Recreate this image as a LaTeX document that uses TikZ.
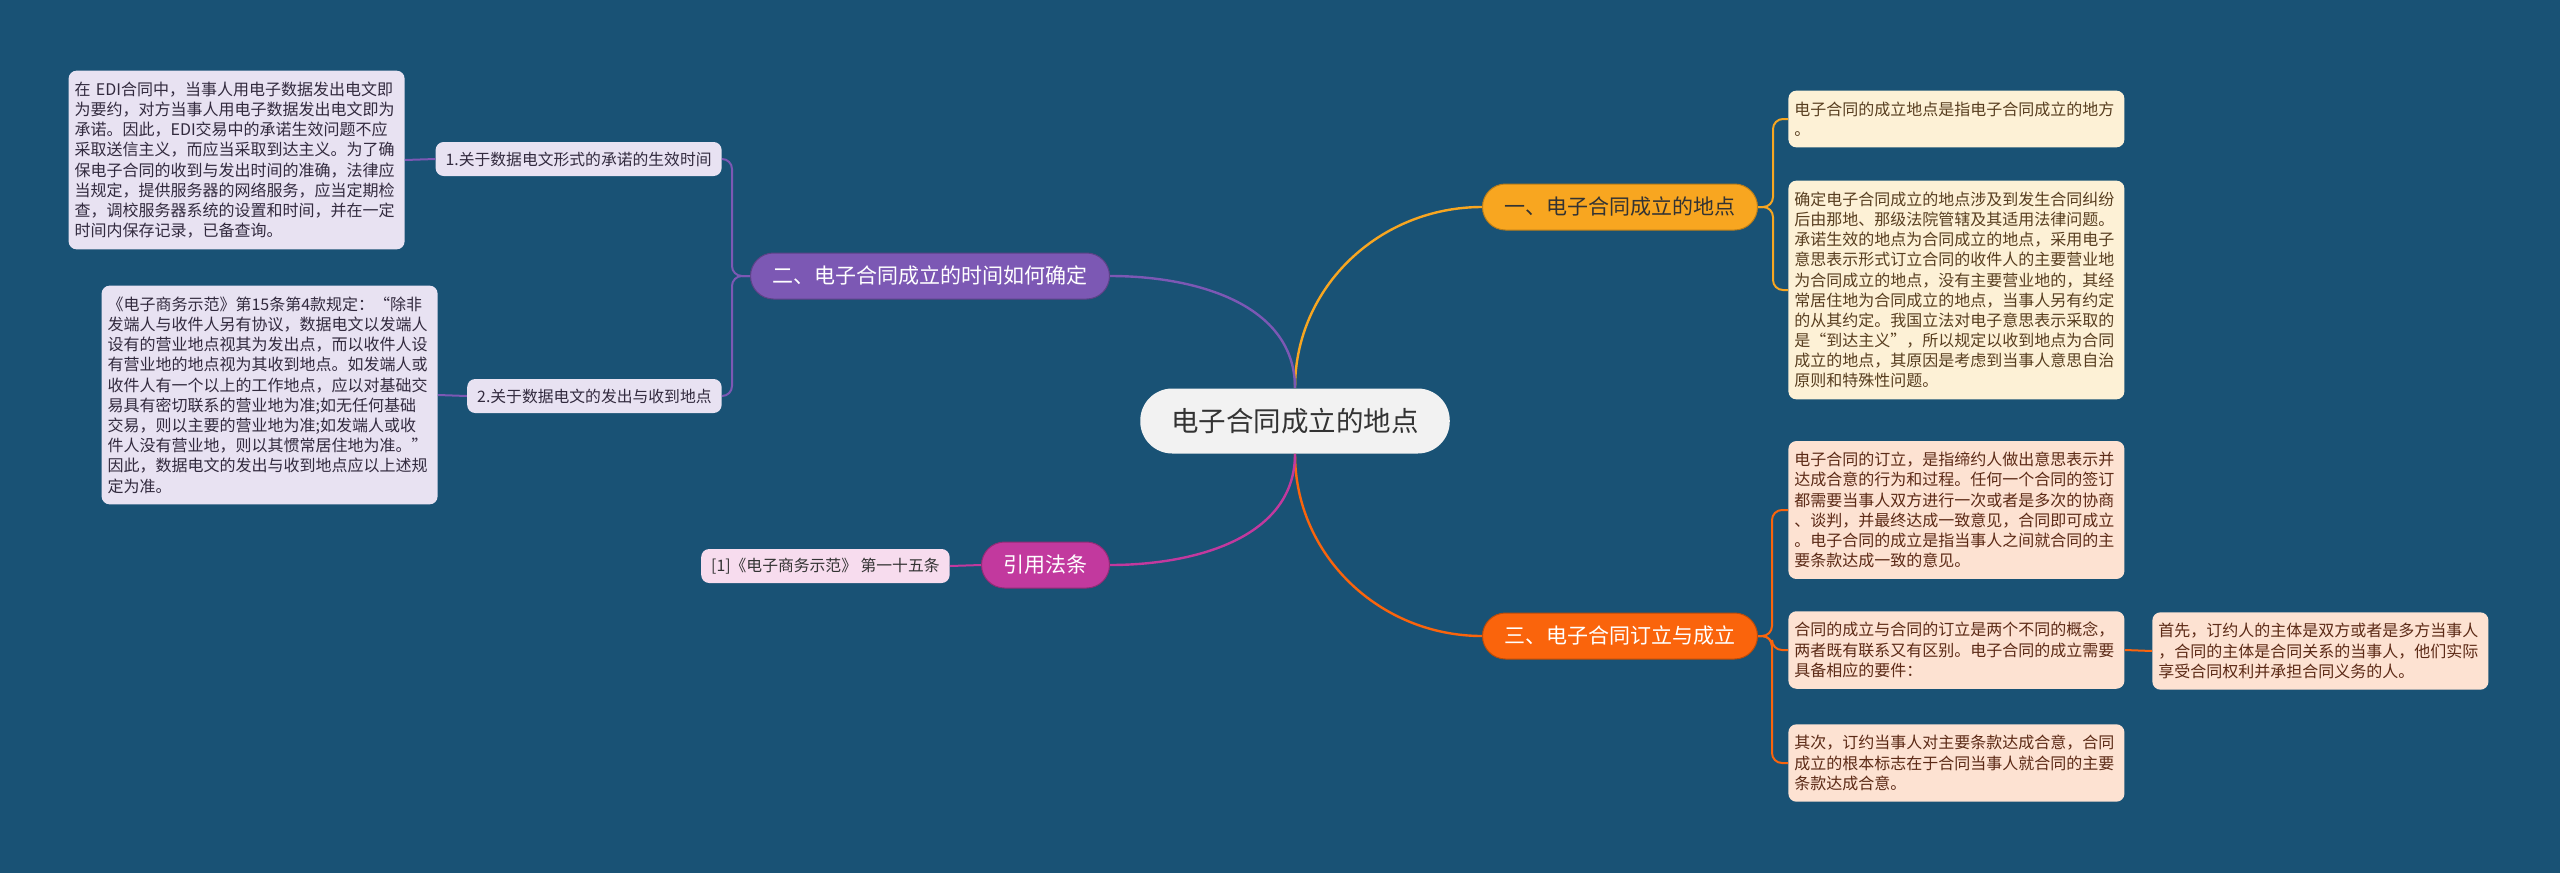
\documentclass[tikz,border=0pt]{standalone}
\usepackage{fontspec}
\setmainfont{Noto Sans CJK SC}
\definecolor{bgblue}{RGB}{25,82,117}
\definecolor{rootfill}{RGB}{242,242,242}
\definecolor{cOrange}{RGB}{248,166,32}
\definecolor{cPurple}{RGB}{124,88,180}
\definecolor{cRed}{RGB}{250,100,12}
\definecolor{cMagenta}{RGB}{194,57,158}
\definecolor{fillOrange}{RGB}{253,241,214}
\definecolor{fillRed}{RGB}{253,226,210}
\definecolor{fillPurple}{RGB}{232,226,242}
\definecolor{fillMagenta}{RGB}{247,220,238}
\definecolor{textdark}{RGB}{51,51,51}
\definecolor{textOrange}{RGB}{88,62,32}
\definecolor{textRed}{RGB}{92,42,22}
\definecolor{textPurple}{RGB}{50,42,62}

\begin{document}
\begin{tikzpicture}[x=0.5pt,y=-0.5pt,
	root/.style={fill=rootfill,text=textdark,rounded corners=16pt,minimum height=32.5pt,
		inner xsep=15.5pt,font=\fontsize{13.75}{16}\selectfont},
	topic/.style={rounded corners=11.5pt,minimum height=23pt,inner xsep=11pt,text=white,
		line width=0.5pt,font=\fontsize{10.5}{12}\selectfont},
	subtopic/.style={fill=fillPurple,text=textPurple,rounded corners=4pt,minimum height=17pt,
		inner xsep=5pt,font=\fontsize{7.9}{9}\selectfont},
	leaf/.style={rounded corners=4pt,text width=162pt,align=left,inner xsep=3pt,inner ysep=5.5pt,
		font=\fontsize{8}{10.1}\selectfont},
	link/.style={line width=1.2pt},
	twig/.style={line width=1pt,rounded corners=5pt}]
	\fill[bgblue] (0,0) rectangle (2560,873);
	\useasboundingbox (0,0) rectangle (2560,873);

	\node[root] (root) at (1295,421) {电子合同成立的地点};

	\node[topic,fill=cOrange,draw=cOrange!75!black,text=textdark,anchor=west] (place) at (1482,207) {一、电子合同成立的地点};
	\node[topic,fill=cPurple,draw=cPurple!75!black,anchor=east] (time) at (1110,276) {二、电子合同成立的时间如何确定};
	\node[topic,fill=cRed,draw=cRed!75!black,anchor=west] (form) at (1482,636) {三、电子合同订立与成立};
	\node[topic,fill=cMagenta,draw=cMagenta!75!black,anchor=east] (law) at (1110,565) {引用法条};

	% right side, first topic
	\node[leaf,fill=fillOrange,text=textOrange,anchor=west] (placeA) at (1788,119)
		{电子合同的成立地点是指电子合同成立的地方\\。};
	\node[leaf,fill=fillOrange,text=textOrange,anchor=west] (placeB) at (1788,290)
		{确定电子合同成立的地点涉及到发生合同纠纷\\后由那地、那级法院管辖及其适用法律问题。\\承诺生效的地点为合同成立的地点，采用电子\\意思表示形式订立合同的收件人的主要营业地\\为合同成立的地点，没有主要营业地的，其经\\常居住地为合同成立的地点，当事人另有约定\\的从其约定。我国立法对电子意思表示采取的\\是“到达主义”，所以规定以收到地点为合同\\成立的地点，其原因是考虑到当事人意思自治\\原则和特殊性问题。};

	% right side, third topic
	\node[leaf,fill=fillRed,text=textRed,anchor=west] (formA) at (1788,510)
		{电子合同的订立，是指缔约人做出意思表示并\\达成合意的行为和过程。任何一个合同的签订\\都需要当事人双方进行一次或者是多次的协商\\、谈判，并最终达成一致意见，合同即可成立\\。电子合同的成立是指当事人之间就合同的主\\要条款达成一致的意见。};
	\node[leaf,fill=fillRed,text=textRed,anchor=west] (formB) at (1788,650)
		{合同的成立与合同的订立是两个不同的概念，\\两者既有联系又有区别。电子合同的成立需要\\具备相应的要件：};
	\node[leaf,fill=fillRed,text=textRed,anchor=west] (formBa) at (2152,651)
		{首先，订约人的主体是双方或者是多方当事人\\，合同的主体是合同关系的当事人，他们实际\\享受合同权利并承担合同义务的人。};
	\node[leaf,fill=fillRed,text=textRed,anchor=west] (formC) at (1788,763)
		{其次，订约当事人对主要条款达成合意，合同\\成立的根本标志在于合同当事人就合同的主要\\条款达成合意。};

	% left side
	\node[subtopic,anchor=east] (timeA) at (722,159) {1.关于数据电文形式的承诺的生效时间};
	\node[subtopic,anchor=east] (timeB) at (722,396) {2.关于数据电文的发出与收到地点};
	\node[leaf,fill=fillPurple,text=textPurple,anchor=east] (timeAa) at (405,160)
		{在 EDI合同中，当事人用电子数据发出电文即\\为要约，对方当事人用电子数据发出电文即为\\承诺。因此，EDI交易中的承诺生效问题不应\\采取送信主义，而应当采取到达主义。为了确\\保电子合同的收到与发出时间的准确，法律应\\当规定，提供服务器的网络服务，应当定期检\\查，调校服务器系统的设置和时间，并在一定\\时间内保存记录，已备查询。};
	\node[leaf,fill=fillPurple,text=textPurple,anchor=east] (timeBa) at (438,395)
		{《电子商务示范》第15条第4款规定：“除非\\发端人与收件人另有协议，数据电文以发端人\\设有的营业地点视其为发出点，而以收件人设\\有营业地的地点视为其收到地点。如发端人或\\收件人有一个以上的工作地点，应以对基础交\\易具有密切联系的营业地为准;如无任何基础\\交易，则以主要的营业地为准;如发端人或收\\件人没有营业地，则以其惯常居住地为准。”\\因此，数据电文的发出与收到地点应以上述规\\定为准。};
	\node[subtopic,fill=fillMagenta,text=textdark,anchor=east] (lawA) at (950,566)
		{[1]《电子商务示范》 第一十五条};

	\draw[link,cOrange] (root.north) to[out=90,in=180] (place.west);
	\draw[link,cPurple] (root.north) to[out=90,in=0] (time.east);
	\draw[link,cRed] (root.south) to[out=-90,in=180] (form.west);
	\draw[link,cMagenta] (root.south) to[out=-90,in=0] (law.east);

	\foreach \n in {placeA,placeB}
		\draw[twig,cOrange] (place.east) -- ++(15,0) |- (\n.west);
	\foreach \n in {formA,formB,formC}
		\draw[twig,cRed] (form.east) -- ++(14,0) |- (\n.west);
	\draw[twig,cRed] (formB.east) -- (formBa.west);
	\foreach \n in {timeA,timeB}
		\draw[twig,cPurple] (time.west) -- ++(-18,0) |- (\n.east);
	\draw[twig,cPurple] (timeA.west) -- (timeAa.east);
	\draw[twig,cPurple] (timeB.west) -- (timeBa.east);
	\draw[twig,cMagenta] (law.west) -- (lawA.east);
\end{tikzpicture}
\end{document}
